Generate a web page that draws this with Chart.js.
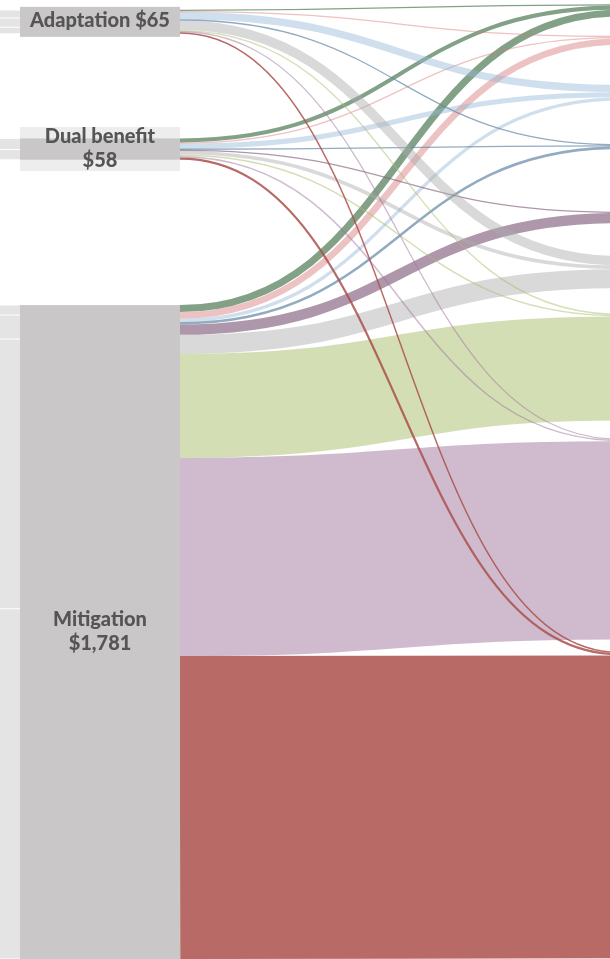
<!DOCTYPE html>
<html>
<head>
<meta charset="utf-8">
<script src="https://cdn.jsdelivr.net/npm/chart.js@4/dist/chart.umd.min.js"></script>
<style>
html,body{margin:0;padding:0;background:#fff;overflow:hidden}
canvas{display:block}
</style>
</head>
<body>
<canvas id="c" width="610" height="959"></canvas>
<script>
// ---------- DATA (US$ values) ----------
const sourceNames = ['Adaptation', 'Dual benefit', 'Mitigation'];
const sourceLabels = [['Adaptation $65'], ['Dual benefit', '$58'], ['Mitigation', '$1,781']];
const sourceTotals = [65, 58, 1781];
// right-hand categories (their names are outside the visible crop)
const targetNames = ['Category 1', 'Category 2', 'Category 3', 'Category 4', 'Category 5',
                     'Category 6', 'Category 7', 'Category 8', 'Category 9'];
// flows from each source to each target category (same order as targetNames)
const adaptationFlows  = [3, 3, 20, 3, 0, 26, 3, 3, 4];
const dualBenefitFlows = [11, 3, 14, 3, 3, 10, 4, 4, 6];
const mitigationFlows  = [19, 18, 9, 7, 28, 52, 283, 540, 825];
// flows arriving into each source node from the previous (off-screen) column
const adaptationInflows  = [22, 25, 18];
const dualBenefitInflows = [30, 28];
const mitigationInflows  = [27, 65, 735, 954];

// ---------- LAYOUT & STYLE ----------
const LAYOUT = {
  yMax: 2612,
  leftTops: [27, 377, 831],
  rightTops: [12, 98, 231, 393, 577, 697, 855, 1195, 1775],
  prevCol: 0, leftCol: 1, rightCol: 2, nodeWidth: 0.26667,
  xMin: 0.966667, xMax: 1.983333,
  lineGap: 24
};
const targetColors = [
  'rgba(90,130,95,0.75)',
  'rgba(215,120,120,0.45)',
  'rgba(150,185,215,0.45)',
  'rgba(100,135,165,0.7)',
  'rgba(130,95,125,0.65)',
  'rgba(170,170,170,0.45)',
  'rgba(170,190,105,0.5)',
  'rgba(160,120,155,0.5)',
  'rgba(170,80,75,0.85)'
];
const nodeColor = '#c9c7c8';
const inflowColor = '#e4e4e4';
const labelBoxColors = ['#c9c7c8', '#ededed', '#c9c7c8'];
const labelColor = '#555555';

const sankeyPlugin = {
  id: 'sankey',
  beforeDatasetsDraw(chart) {
    const ctx = chart.ctx;
    const xs = chart.scales.x, ys = chart.scales.y;
    const X = v => xs.getPixelForValue(v);
    const Y = v => ys.getPixelForValue(v);
    const k = Math.abs(Y(1) - Y(0));
    const flows = [adaptationFlows, dualBenefitFlows, mitigationFlows];
    const inflows = [adaptationInflows, dualBenefitInflows, mitigationInflows];

    ctx.save();
    ctx.lineCap = 'butt';

    // incoming flows from the previous column
    const px0 = X(LAYOUT.prevCol + LAYOUT.nodeWidth), px1 = X(LAYOUT.leftCol);
    inflows.forEach((row, s) => {
      let off = LAYOUT.leftTops[s];
      row.forEach(v => {
        const yc = Y(off + v / 2);
        ctx.beginPath();
        ctx.moveTo(px0, yc);
        ctx.bezierCurveTo((px0 + px1) / 2, yc, (px0 + px1) / 2, yc, px1, yc);
        ctx.lineWidth = Math.max(1, v * k - 1);
        ctx.strokeStyle = inflowColor;
        ctx.stroke();
        off += v;
      });
    });

    // links source -> target
    const tOff = targetNames.map(() => 0);
    const links = [];
    flows.forEach((row, s) => {
      let sOff = 0;
      row.forEach((v, t) => {
        if (v > 0) {
          links.push({ s, t, v,
            sy: LAYOUT.leftTops[s] + sOff + v / 2,
            ty: LAYOUT.rightTops[t] + tOff[t] + v / 2 });
          sOff += v; tOff[t] += v;
        }
      });
    });
    const x0 = X(LAYOUT.leftCol + LAYOUT.nodeWidth), x1 = X(LAYOUT.rightCol), xm = (x0 + x1) / 2;
    for (let s = flows.length - 1; s >= 0; s--) {
      links.filter(l => l.s === s).forEach(l => {
        const a = Y(l.sy), b = Y(l.ty);
        ctx.beginPath();
        ctx.moveTo(x0, a);
        ctx.bezierCurveTo(xm, a, xm, b, x1, b);
        ctx.lineWidth = Math.max(1.3, l.v * k);
        ctx.strokeStyle = targetColors[l.t];
        ctx.stroke();
      });
    }

    // source nodes + labels
    const nx0 = X(LAYOUT.leftCol), nx1 = X(LAYOUT.leftCol + LAYOUT.nodeWidth);
    sourceNames.forEach((name, s) => {
      const top = Y(LAYOUT.leftTops[s]), bot = Y(LAYOUT.leftTops[s] + sourceTotals[s]);
      const cy = (top + bot) / 2;
      const lines = sourceLabels[s];
      const boxH = 16 + 14 * lines.length;
      ctx.fillStyle = labelBoxColors[s];
      ctx.fillRect(nx0, cy - boxH / 2, nx1 - nx0, boxH);
      ctx.fillStyle = nodeColor;
      ctx.fillRect(nx0, top, nx1 - nx0, bot - top);
      ctx.fillStyle = labelColor;
      ctx.font = '900 20px Lato, "Open Sans", sans-serif';
      ctx.textAlign = 'center';
      ctx.textBaseline = 'middle';
      lines.forEach((ln, i) => {
        ctx.fillText(ln, (nx0 + nx1) / 2, cy + (i - (lines.length - 1) / 2) * LAYOUT.lineGap - 1);
      });
    });
    ctx.restore();
  }
};

new Chart(document.getElementById('c'), {
  type: 'scatter',
  data: { datasets: [{ data: [] }] },
  options: {
    responsive: false,
    animation: false,
    layout: { padding: 0 },
    plugins: { legend: { display: false }, tooltip: { enabled: false } },
    scales: {
      x: { type: 'linear', min: LAYOUT.xMin, max: LAYOUT.xMax, display: false },
      y: { type: 'linear', min: 0, max: LAYOUT.yMax, reverse: true, display: false }
    }
  },
  plugins: [sankeyPlugin]
});
</script>
</body>
</html>
